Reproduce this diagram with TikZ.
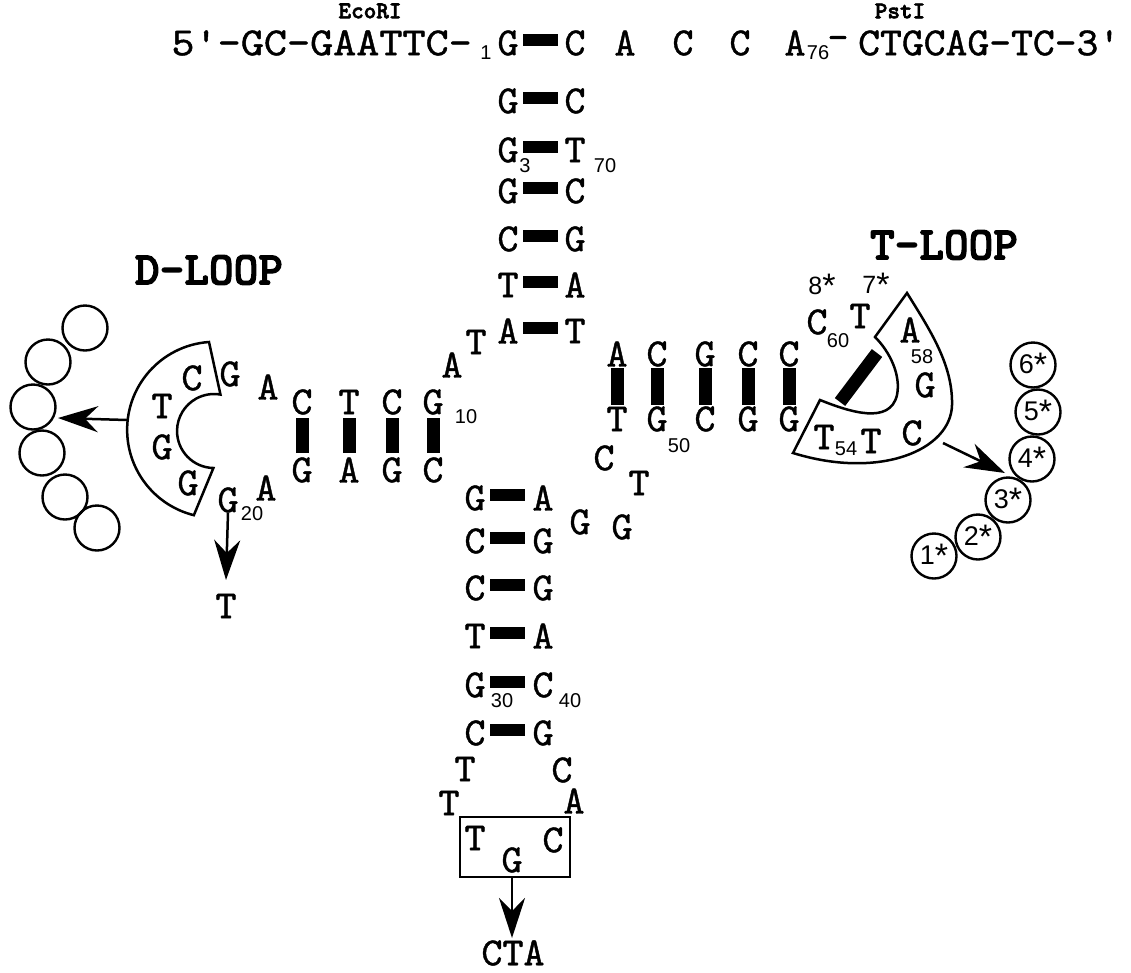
\documentclass[tikz,border=0pt]{standalone}
\usepackage{fontspec}
\usepackage{graphicx}
\newfontfamily\subf{Liberation Sans}
\newfontfamily\cour{lmmono10-regular.otf}[FakeBold=1]
\newfontfamily\courb{lmmonolt10-bold.otf}[FakeBold=2.5]
\usetikzlibrary{arrows.meta}
\newcommand{\wide}[2]{\scalebox{#1}[1]{#2}}
\newcommand{\st}{\raisebox{-3pt}{\fontsize{34}{34}\selectfont *}}
\begin{document}
\begin{tikzpicture}[x=1pt,y=-1pt,
  nt/.style={inner sep=0pt, font=\cour\fontsize{40}{42}\selectfont},
  sub/.style={inner sep=0pt, font=\subf\fontsize{20}{22}\selectfont},
  lbl/.style={inner sep=0pt, font=\courb\fontsize{24}{26}\selectfont},
  big/.style={inner sep=0pt, font=\courb\fontsize{47}{50}\selectfont},
  mk/.style={inner sep=0pt, font=\subf\fontsize{25}{28}\selectfont},
  ring/.style={draw, circle, minimum size=45pt, line width=2.4pt, inner sep=0pt, font=\subf\fontsize{27}{28}\selectfont},
  arr/.style={-{Stealth[length=40pt,width=26pt,inset=13pt]}, line width=2.5pt},
  band/.style={draw, line width=2.5pt},
]
\useasboundingbox (0,0) rectangle (1131,972);

% ---------- header ----------
\node[lbl] (eco) at (370,11) {EcoRI};
\node[lbl] (pst) at (900,11) {PstI};
\node[nt, anchor=east] (l5) at (472,43) {\wide{1.1}{5\textquotesingle-GC-GAATTC-}};
\node[sub] (s1) at (486,53) {1};
\node[nt, anchor=west] (r3a) at (858,43) {\wide{1.04}{CTGCAG-TC-3\textquotesingle}};
\node[nt] (tA1) at (625,43) {A};
\node[nt] (tC1) at (683,43) {C};
\node[nt] (tC2) at (740,43) {C};
\node[nt] (tA2) at (795,43) {A};
\node[sub] (s76) at (818,53) {76};
\node[nt] (dash) at (838,43) {-};

% ---------- acceptor stem ----------
\foreach \y/\l/\r [count=\i] in {43/G/C,101/G/C,150/G/T,191/G/C,239/C/G,285/T/A,331/A/T}{
  \node[nt] (accL\i) at (508,\y) {\l};
  \node[nt] (accR\i) at (575,\y) {\r};
  \fill (523,\y-9) rectangle (558,\y+3);
}
\node[sub] (s3) at (525,166) {3};
\node[sub] (s70) at (605,166) {70};

% ---------- anticodon stem ----------
\foreach \y/\l/\r [count=\i] in {498/G/A,541/C/G,588/C/G,636/T/A,685/G/C,733/C/G}{
  \node[nt] (acL\i) at (475,\y) {\l};
  \node[nt] (acR\i) at (543,\y) {\r};
  \fill (490,\y-9) rectangle (525,\y+3);
}
\node[sub] (s30) at (502,701) {30};
\node[sub] (s40) at (570,701) {40};
\node[nt] (lT1) at (465,769) {T};
\node[nt] (lC1) at (562,770) {C};
\node[nt] (lT2) at (449,803) {T};
\node[nt] (lA1) at (574,801) {A};
\node[draw, line width=2.5pt, minimum width=110pt, minimum height=60pt, inner sep=0pt] (acbox) at (515,847) {};
\node[nt] (bT) at (475,838) {T};
\node[nt] (bG) at (512,860) {G};
\node[nt] (bC) at (553,840) {C};
\node[nt] (cta) at (513,953) {CTA};
\coordinate (ctatip) at (512,938);
\draw[arr] (acbox.south -| bG) -- (ctatip);

% ---------- junction ----------
\node[nt] (jA) at (452,365) {A};
\node[nt] (jT) at (476,342) {T};

% ---------- D stem ----------
\foreach \x/\t/\b [count=\i] in {302/C/G,349/T/A,392/C/G,433/G/C}{
  \node[nt] (dT\i) at (\x,402) {\t};
  \node[nt] (dB\i) at (\x,470) {\b};
  \fill (\x-6.5,418) rectangle (\x+6.5,453);
}
\node[sub] (s10) at (466,417) {10};
\node[nt] (dA1) at (268,387) {A};
\node[nt] (dG1) at (230,374) {G};
\node[nt] (dA2) at (266,488) {A};
\node[nt] (dG20) at (228,500) {G};
\node[sub] (s20) at (252,514) {20};

% D band
\draw[band] (209,342) arc[start angle=-94, end angle=-256, radius=88]
  -- (213.4,468) arc[start angle=91, end angle=280, radius=37] -- cycle;
\node[nt] (dbC) at (192,378) {C};
\node[nt] (dbT) at (162,406) {T};
\node[nt] (dbG1) at (162,447) {G};
\node[nt] (dbG2) at (188,483) {G};
\node[big] (dloop) at (209,270) {D-LOOP};

% D circles
\foreach \x/\y [count=\i] in {85/328,48/362,33/407,42/453,65/497,97/528}{
  \node[ring] (dc\i) at (\x,\y) {};
}
\coordinate (dbandL) at (127,420);
\coordinate (dtip) at (58,418);
\draw[arr] (dbandL) -- (dtip);
\coordinate (dgtip) at (226,580);
\draw[arr] (dG20.south) -- (dgtip);
\node[nt] (dTout) at (226,606) {T};

% ---------- T stem ----------
\foreach \x/\t/\b [count=\i] in {617/A/T,657/C/G,705/G/C,748/C/G,789/C/G}{
  \node[nt] (tT\i) at (\x,354) {\t};
  \node[nt] (tB\i) at (\x,419) {\b};
  \fill (\x-6.5,368) rectangle (\x+6.5,405);
}
\node[sub] (s50) at (679,446) {50};
\node[nt] (vC) at (604,458) {C};
\node[nt] (vT) at (639,483) {T};
\node[nt] (vG1) at (580,522) {G};
\node[nt] (vG2) at (622,527) {G};

% T loop
\node[nt] (tlC) at (817,322) {C};
\node[sub] (s60) at (838,341) {60};
\node[nt] (tlT) at (860,316) {T};
\node[mk] (m8) at (822,286) {8\st};
\node[mk] (m7) at (876,285) {7\st};
\draw[band] (907,293) .. controls (930,330) and (953,365) .. (952,405)
  .. controls (951,450) and (880,480) .. (793,453) -- (820,400)
  .. controls (850,412) and (890,425) .. (897,395)
  .. controls (901,375) and (890,352) .. (875,337) -- cycle;
\draw[line width=13pt] (840,402) -- (877,353);
\node[nt] (tlA) at (910,330) {A};
\node[sub] (s58) at (922,357) {58};
\node[nt] (tlG) at (925,385) {G};
\node[nt] (tlC2) at (912,433) {C};
\node[nt] (tlT54) at (824,437) {T};
\node[sub] (s54) at (846,449) {54};
\node[nt] (tlT2) at (871,441) {T};
\node[big] (tloop) at (944,245) {T-LOOP};

% T circles
\foreach \x/\y/\t in {1033/365/6,1038/412/5,1032/459/4,1008/500/3,978/537/2,934/556/1}{
  \node[ring] (tc\t) at (\x,\y) {\t\st};
}
\coordinate (tbandR) at (943,443);
\coordinate (ttip) at (1005,473);
\draw[arr] (tbandR) -- (ttip);
\end{tikzpicture}
\end{document}
